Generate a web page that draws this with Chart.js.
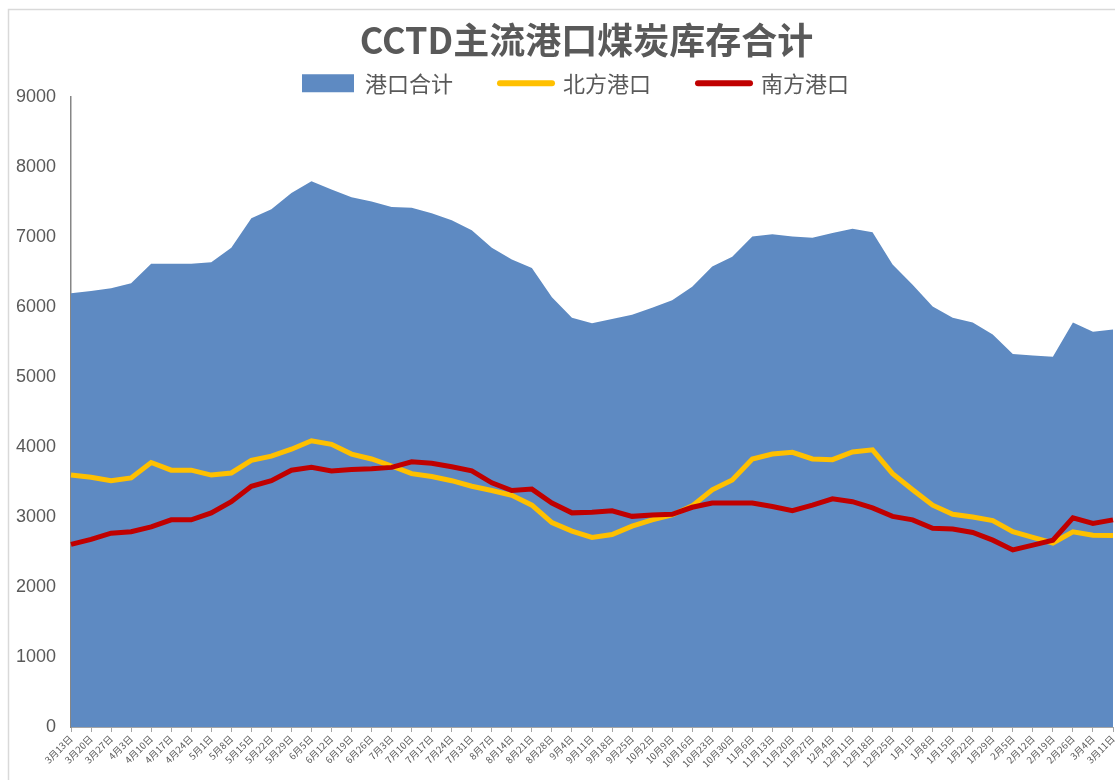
<!DOCTYPE html>
<html>
<head>
<meta charset="utf-8">
<script src="https://cdn.jsdelivr.net/npm/chart.js@4.4.1/dist/chart.umd.min.js"></script>
<style>
  html, body { margin: 0; padding: 0; background: #fff; }
  #wrap { position: relative; width: 1115px; height: 780px; }
</style>
</head>
<body>
<div id="wrap"><canvas id="stockChart"></canvas></div>
<script>
// ── data ──
const weeks = [
  '3月13日','3月20日','3月27日','4月3日','4月10日','4月17日','4月24日','5月1日','5月8日','5月15日',
  '5月22日','5月29日','6月5日','6月12日','6月19日','6月26日','7月3日','7月10日','7月17日','7月24日',
  '7月31日','8月7日','8月14日','8月21日','8月28日','9月4日','9月11日','9月18日','9月25日','10月2日',
  '10月9日','10月16日','10月23日','10月30日','11月6日','11月13日','11月20日','11月27日','12月4日','12月11日',
  '12月18日','12月25日','1月1日','1月8日','1月15日','1月22日','1月29日','2月5日','2月12日','2月19日',
  '2月26日','3月4日','3月11日'
];

const portTotal = [
  6200, 6230, 6270, 6340, 6620, 6620, 6620, 6640, 6850, 7270,
  7400, 7630, 7800, 7680, 7570, 7510, 7430, 7420, 7340, 7240,
  7100, 6850, 6680, 6560, 6140, 5850, 5770, 5830, 5890, 5990,
  6100, 6290, 6580, 6720, 7010, 7040, 7010, 6990, 7060, 7120,
  7070, 6610, 6320, 6010, 5850, 5780, 5610, 5330, 5310, 5290,
  5780, 5650, 5680
];

const northPorts = [
  3600, 3570, 3520, 3560, 3780, 3670, 3670, 3600, 3630, 3810,
  3870, 3970, 4090, 4040, 3900, 3830, 3730, 3620, 3580, 3520,
  3440, 3380, 3310, 3170, 2920, 2800, 2710, 2750, 2870, 2960,
  3030, 3160, 3390, 3530, 3830, 3900, 3925, 3830, 3820, 3930,
  3960, 3620, 3390, 3170, 3040, 3000, 2950, 2790, 2710, 2630,
  2790, 2740, 2735
];

const southPorts = [
  2610, 2680, 2770, 2790, 2860, 2960, 2960, 3060, 3220, 3440,
  3520, 3670, 3710, 3660, 3680, 3690, 3710, 3790, 3770, 3720,
  3660, 3490, 3380, 3400, 3200, 3060, 3070, 3090, 3010, 3030,
  3040, 3140, 3200, 3200, 3200, 3150, 3090, 3170, 3260, 3220,
  3130, 3010, 2960, 2840, 2830, 2780, 2670, 2530, 2600, 2670,
  2990, 2910, 2960
];

const yTicks = [0, 1000, 2000, 3000, 4000, 5000, 6000, 7000, 8000, 9000];

// ── colours ──
const BLUE = '#5E8AC2';
const GOLD = '#FFC000';
const RED = '#C00000';
const GREY_TXT = '#595959';
const CJK = '"Noto Sans CJK SC", "Noto Sans", sans-serif';

// light frame round the chart, as in the original export
const framePlugin = {
  id: 'frame',
  beforeDraw(chart) {
    const c = chart.ctx;
    c.save();
    c.strokeStyle = '#D9D9D9';
    c.lineWidth = 1.5;
    c.strokeRect(8.5, 9.5, chart.width + 10, chart.height + 10);
    c.restore();
  }
};

// trim the legend box a little so the plot starts right under it,
// and nudge title + legend to the right like the original
const headerTweak = {
  id: 'headerTweak',
  afterInit(chart) {
    const lg = chart.legend;
    if (!lg || lg._trimmed) return;
    const fit = lg.fit;
    lg.fit = function () { fit.call(this); this.height -= 7; };
    lg._trimmed = true;
  },
  afterLayout(chart) {
    if (chart.titleBlock) chart.titleBlock.left += 50;
    if (chart.legend) chart.legend.left += 28;
  }
};

const ctx = document.getElementById('stockChart').getContext('2d');
new Chart(ctx, {
  type: 'line',
  data: {
    labels: weeks,
    datasets: [
      {
        label: '港口合计',
        data: portTotal,
        borderWidth: 0,
        borderColor: BLUE,
        backgroundColor: BLUE,
        fill: 'origin',
        pointRadius: 0,
        tension: 0,
        order: 3
      },
      {
        label: '北方港口',
        data: northPorts,
        borderColor: GOLD,
        backgroundColor: GOLD,
        borderWidth: 5,
        fill: false,
        pointRadius: 0,
        tension: 0,
        order: 2
      },
      {
        label: '南方港口',
        data: southPorts,
        borderColor: RED,
        backgroundColor: RED,
        borderWidth: 5,
        fill: false,
        pointRadius: 0,
        tension: 0,
        order: 1
      }
    ]
  },
  plugins: [framePlugin, headerTweak],
  options: {
    responsive: true,
    maintainAspectRatio: false,
    animation: false,
    layout: { padding: { top: 19, left: 10, right: 2, bottom: 0 } },
    plugins: {
      title: {
        display: true,
        text: 'CCTD主流港口煤炭库存合计',
        color: GREY_TXT,
        font: { family: CJK, size: 36, weight: 'bold' },
        padding: { top: 0, bottom: -37 }
      },
      legend: {
        display: true,
        labels: {
          color: GREY_TXT,
          font: { family: CJK, size: 22 },
          usePointStyle: true,
          pointStyleWidth: 52,
          boxHeight: 18,
          padding: 47,
          generateLabels(chart) {
            const items = Chart.defaults.plugins.legend.labels.generateLabels(chart);
            items.sort((a, b) => a.datasetIndex - b.datasetIndex);
            items.forEach(it => {
              if (it.datasetIndex === 0) {
                it.pointStyle = 'rect';
                it.lineWidth = 0;
                it.fillStyle = BLUE;
                it.strokeStyle = BLUE;
              } else {
                it.pointStyle = 'line';
                it.lineWidth = 6;
                it.lineCap = 'round';
              }
            });
            return items;
          }
        }
      },
      tooltip: { enabled: false }
    },
    scales: {
      x: {
        offset: false,
        grid: { drawOnChartArea: false, drawTicks: true, tickLength: 5, color: '#A6A6A6' },
        border: { display: true, color: '#A6A6A6' },
        ticks: {
          autoSkip: false,
          maxRotation: 45,
          minRotation: 45,
          color: GREY_TXT,
          font: { family: CJK, size: 9.5 },
          padding: 1
        },
        afterFit(scale) {
          scale.height = 53;
          scale.paddingLeft = 0;
          scale.paddingRight = 0;
        }
      },
      y: {
        min: 0,
        max: 9000,
        afterBuildTicks(scale) { scale.ticks = yTicks.map(v => ({ value: v })); },
        grid: { display: false },
        border: { display: true, color: '#868686', width: 1.5 },
        ticks: {
          color: GREY_TXT,
          font: { family: '"Liberation Sans", Arial, sans-serif', size: 18 },
          padding: 7,
          callback: v => String(v)
        },
        afterFit(scale) { scale.width = 61; }
      }
    }
  }
});
</script>
</body>
</html>
